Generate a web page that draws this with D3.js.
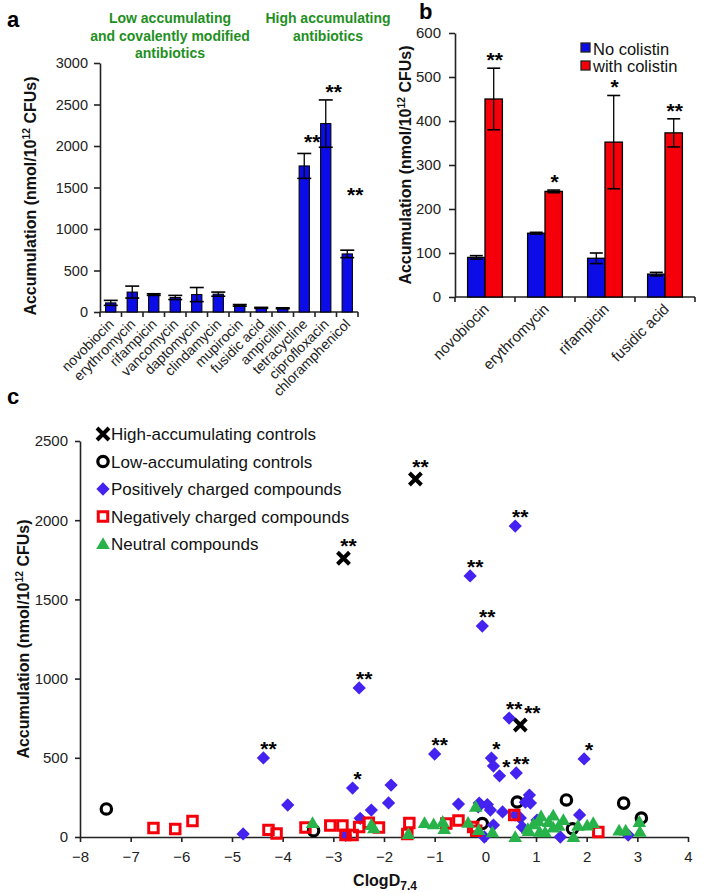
<!DOCTYPE html>
<html><head><meta charset="utf-8">
<script src="https://cdn.jsdelivr.net/npm/d3@7"></script>
<style>
body{margin:0;background:#fff}
text{font-family:Arial,"Liberation Sans",sans-serif}
</style>
</head><body>
<svg id="chart" width="704" height="896"></svg>
<script>
// ---------- Panel a data ----------
const aCategories = ["novobiocin","erythromycin","rifampicin","vancomycin","daptomycin","clindamycin","mupirocin","fusidic acid","ampicillin","tetracycline","ciprofloxacin","chloramphenicol"];
const aValues = [110, 240, 210, 175, 210, 215, 80, 50, 45, 1760, 2270, 700];
const aErrors = [30, 72, 10, 25, 85, 25, 10, 6, 6, 150, 285, 45];
const aStars = ["","","","","","","","","","**","**","**"];
const aStarAt = [0,0,0,0,0,0,0,0,0,1965,2570,1320];
const aTicks = [0,500,1000,1500,2000,2500,3000];

// ---------- Panel b data ----------
const bCategories = ["novobiocin","erythromycin","rifampicin","fusidic acid"];
const bSeries = ["No colistin","with colistin"];
const bNoColistin = [90, 145, 88, 52];
const bNoColistinErr = [4, 2, 12, 4];
const bWithColistin = [450, 240, 352, 373];
const bWithColistinErr = [70, 3, 106, 32];
const bStars = ["**","*","*","**"];
const bTicks = [0,100,200,300,400,500,600];

// ---------- Panel c data ----------
const cSeries = ["High-accumulating controls","Low-accumulating controls","Positively charged compounds","Negatively charged compounds","Neutral compounds"];
const highControls = [[-2.8,1760,"**"],[-1.38,2260,"**"],[0.69,707,"**"]];
const lowControls = [[-7.48,177],[-3.39,40],[-0.06,85],[0.63,221],[1.6,234],[1.72,52],[2.73,214],[3.08,120]];
const positiveCompounds = [
  [-4.38,499,"**"],[-2.49,941,"**"],[-2.62,309,"*"],[-1.0,524,"**"],[-0.3,1648,"**"],
  [-0.06,1332,"**"],[0.59,1963,"**"],[0.47,751,"**"],[0.12,498,"*"],[0.16,448,""],
  [0.28,386,"*"],[0.61,404,"**"],[1.95,493,"*"],
  [-4.78,19],[-3.9,202],[-2.76,10],[-2.47,118],[-2.25,170],[-1.86,328],[-1.91,215],
  [-0.53,208],[-0.14,190],[-0.12,214],[0.04,205],[0.1,170],[0.34,158],[-0.02,0],
  [0.16,75],[0.87,265],[0.79,220],[0.89,214],[0.69,120],[0.73,63],[1.02,107],
  [1.86,139],[1.48,0],[2.82,12],[0.59,139]
];
const negativeCompounds = [
  [-6.55,57],[-6.12,50],[-5.78,101],[-4.28,45],[-4.12,22],[-3.55,60],[-3.06,72],
  [-2.82,72],[-2.76,13],[-2.62,13],[-2.49,63],[-2.3,90],[-2.1,60],[-1.5,88],
  [-1.54,19],[-0.77,85],[-0.53,104],[-0.24,63],[-0.18,40],[0.57,139],[2.23,32]
];
const neutralCompounds = [
  [-3.41,88],[-2.25,76],[-2.2,55],[-1.52,19],[-1.2,88],[-1.02,80],[-0.84,95],
  [-0.81,50],[-0.34,90],[-0.19,190],[-0.13,44],[0.14,30],[0.59,0],[0.84,50],
  [0.85,38],[1.05,100],[1.07,32],[1.18,30],[1.34,135],[1.34,60],[1.54,107],
  [1.74,0],[1.83,70],[2.01,72],[2.13,88],[2.64,40],[2.77,40],[3.04,95],[3.05,32],
  [0.95,80],[1.25,95],[1.45,70],[1.1,130]
];
const cXTicks = [-8,-7,-6,-5,-4,-3,-2,-1,0,1,2,3,4];
const cYTicks = [0,500,1000,1500,2000,2500];

// ---------- styles ----------
const BLUE = "#0c0ce6", RED = "#f5000a", DIAMOND = "#4422f0", GREEN = "#27b34a", DARKGREEN = "#1f8f1f";
const AXIS = "#222";
const fmt = d3.format("d");

const svg = d3.select("#chart");

function yLabel(g, x, y, size) {
  const t = g.append("text").attr("transform", `translate(${x},${y}) rotate(-90)`)
    .attr("text-anchor","middle").attr("font-weight","bold").attr("font-size",size).attr("fill","#111");
  t.append("tspan").text("Accumulation (nmol/10");
  t.append("tspan").attr("dy",-6).attr("font-size",size*0.65).text("12");
  t.append("tspan").attr("dy",6).text(" CFUs)");
}
function styleAxis(g, fs) {
  g.selectAll("path.domain").attr("stroke",AXIS).attr("stroke-width",1.6);
  g.selectAll(".tick line").attr("stroke",AXIS).attr("stroke-width",1.6);
  g.selectAll(".tick text").attr("fill","#222").attr("font-size",fs)
    .attr("font-family","Arial, 'Liberation Sans', sans-serif");
}
function errorBar(g, cx, y, lo, hi, cap) {
  g.append("line").attr("x1",cx).attr("x2",cx).attr("y1",y(lo)).attr("y2",y(hi)).attr("stroke","#000").attr("stroke-width",1.3);
  [lo,hi].forEach(v => g.append("line").attr("x1",cx-cap/2).attr("x2",cx+cap/2).attr("y1",y(v)).attr("y2",y(v)).attr("stroke","#000").attr("stroke-width",1.6));
}

// =================== Panel a ===================
const ga = svg.append("g");
const ya = d3.scaleLinear().domain([0,3000]).range([312,63]);
const xa = d3.scaleBand().domain(aCategories).range([100,358]).paddingInner(0.52).paddingOuter(0.26);
ga.append("text").attr("x",7).attr("y",27).attr("font-size",22).attr("font-weight","bold").text("a");
[["Low accumulating","and covalently modified","antibiotics"],["High accumulating","antibiotics"]].forEach((lines,k)=>{
  const cx = k===0 ? 170 : 328;
  lines.forEach((s,i)=> ga.append("text").attr("x",cx).attr("y",23+i*17.5).attr("text-anchor","middle")
    .attr("font-size",14).attr("font-weight","bold").attr("fill",DARKGREEN).text(s));
});
const yAxA = ga.append("g").attr("transform","translate(100,0)")
  .call(d3.axisLeft(ya).tickValues(aTicks).tickFormat(fmt).tickSize(6).tickSizeOuter(0).tickPadding(6));
styleAxis(yAxA, 14.5);
yLabel(ga, 36, 196, 16);
ga.append("line").attr("x1",xa.range()[0]).attr("x2",xa.range()[1]).attr("y1",ya(0)).attr("y2",ya(0)).attr("stroke",AXIS).attr("stroke-width",1.6);
const aBounds = aCategories.map(c => xa(c)+xa.bandwidth()/2 - xa.step()/2).concat([xa.range()[1]]);
aBounds.forEach(b => ga.append("line").attr("x1",b).attr("x2",b).attr("y1",ya(0)).attr("y2",ya(0)+5).attr("stroke",AXIS).attr("stroke-width",1.6));
aCategories.forEach((c,i)=>{
  const cx = xa(c)+xa.bandwidth()/2;
  ga.append("rect").attr("x",xa(c)).attr("width",xa.bandwidth()).attr("y",ya(aValues[i])).attr("height",ya(0)-ya(aValues[i]))
    .attr("fill",BLUE).attr("stroke","#000").attr("stroke-width",1);
  errorBar(ga, cx, ya, aValues[i]-aErrors[i], aValues[i]+aErrors[i], 14);
  ga.append("text").attr("transform",`translate(${cx+4},${ya(0)+13}) rotate(-45)`).attr("text-anchor","end")
    .attr("font-size",14).attr("fill","#222").text(c);
  if (aStars[i]) ga.append("text").attr("x",cx+8).attr("y",ya(aStarAt[i])).attr("text-anchor","middle")
    .attr("font-size",21).attr("font-weight","bold").text(aStars[i]);
});

// =================== Panel b ===================
const gb = svg.append("g");
const yb = d3.scaleLinear().domain([0,600]).range([297,33]);
const xb = d3.scaleBand().domain(bCategories).range([455,695]).paddingInner(0.42).paddingOuter(0.21);
const xbs = d3.scaleBand().domain(bSeries).range([0,xb.bandwidth()]);
gb.append("text").attr("x",419).attr("y",19).attr("font-size",22).attr("font-weight","bold").text("b");
const yAxB = gb.append("g").attr("transform","translate(455,0)")
  .call(d3.axisLeft(yb).tickValues(bTicks).tickFormat(fmt).tickSize(6).tickSizeOuter(0).tickPadding(8));
styleAxis(yAxB, 15);
yLabel(gb, 411, 165, 16);
gb.append("line").attr("x1",455).attr("x2",695).attr("y1",yb(0)).attr("y2",yb(0)).attr("stroke",AXIS).attr("stroke-width",1.6);
const bBounds = bCategories.map(c => xb(c)+xb.bandwidth()/2 - xb.step()/2).concat([xb.range()[1]]);
bBounds.forEach(b => gb.append("line").attr("x1",b).attr("x2",b).attr("y1",yb(0)).attr("y2",yb(0)+5).attr("stroke",AXIS).attr("stroke-width",1.6));
const bVals = [bNoColistin, bWithColistin], bErrs = [bNoColistinErr, bWithColistinErr], bCols = [BLUE, RED];
bCategories.forEach((c,i)=>{
  bSeries.forEach((s,k)=>{
    const x0 = xb(c)+xbs(s);
    gb.append("rect").attr("x",x0).attr("width",xbs.bandwidth()).attr("y",yb(bVals[k][i])).attr("height",yb(0)-yb(bVals[k][i]))
      .attr("fill",bCols[k]).attr("stroke","#000").attr("stroke-width",1.3);
    errorBar(gb, x0+xbs.bandwidth()/2, yb, bVals[k][i]-bErrs[k][i], bVals[k][i]+bErrs[k][i], 13);
  });
  const rc = xb(c)+xbs(bSeries[1])+xbs.bandwidth()/2;
  gb.append("text").attr("x",rc+1).attr("y",yb(bWithColistin[i]+bWithColistinErr[i])-1).attr("text-anchor","middle")
    .attr("font-size",21).attr("font-weight","bold").text(bStars[i]);
  const cx = xb(c)+xb.bandwidth()/2;
  gb.append("text").attr("transform",`translate(${cx+5},${yb(0)+13}) rotate(-45)`).attr("text-anchor","end")
    .attr("font-size",15).attr("fill","#222").text(c);
});
bSeries.forEach((s,k)=>{
  gb.append("rect").attr("x",581).attr("y",43+k*18).attr("width",9).attr("height",9).attr("fill",bCols[k]).attr("stroke","#222").attr("stroke-width",1.3);
  gb.append("text").attr("x",593).attr("y",55+k*17).attr("font-size",16.5).attr("fill","#111").text(s);
});

// =================== Panel c ===================
const gc = svg.append("g");
const xc = d3.scaleLinear().domain([-8,4]).range([80,688]);
const yc = d3.scaleLinear().domain([0,2500]).range([837,441]);
gc.append("text").attr("x",7).attr("y",404).attr("font-size",22).attr("font-weight","bold").text("c");
const xAxC = gc.append("g").attr("transform",`translate(0,${yc(0)})`)
  .call(d3.axisBottom(xc).tickValues(cXTicks).tickSize(5).tickSizeOuter(0).tickPadding(9).tickFormat(fmt));
styleAxis(xAxC, 15);
const yAxC = gc.append("g").attr("transform",`translate(${xc(-8)},0)`)
  .call(d3.axisLeft(yc).tickValues(cYTicks).tickFormat(fmt).tickSize(5).tickSizeOuter(0).tickPadding(7));
styleAxis(yAxC, 15);
yLabel(gc, 29, 639, 16);
const xl = gc.append("text").attr("x",385).attr("y",886).attr("text-anchor","middle").attr("font-size",16).attr("font-weight","bold").attr("fill","#111");
xl.append("tspan").text("ClogD");
xl.append("tspan").attr("dy",4).attr("font-size",12).text("7.4");

const symDiamond = d3.symbol(d3.symbolSquare, 88)();
const symSquare = d3.symbol(d3.symbolSquare, 90)();
const symTriangle = d3.symbol(d3.symbolTriangle, 80)();
const symX = "M-6,-6L6,6M-6,6L6,-6";

function drawMarker(g, type, tx, ty) {
  const t = `translate(${tx},${ty})`;
  if (type===0) g.append("path").attr("d",symX).attr("transform",t).attr("stroke","#000").attr("stroke-width",4).attr("fill","none");
  else if (type===1) g.append("circle").attr("cx",tx).attr("cy",ty).attr("r",5.2).attr("fill","none").attr("stroke","#000").attr("stroke-width",3.2);
  else if (type===2) g.append("path").attr("d",symDiamond).attr("transform",t+" rotate(45)").attr("fill",DIAMOND);
  else if (type===3) g.append("path").attr("d",symSquare).attr("transform",t).attr("fill","none").attr("stroke",RED).attr("stroke-width",3);
  else g.append("path").attr("d",symTriangle).attr("transform",t+" translate(0,1)").attr("fill",GREEN);
}
const cData = [highControls, lowControls, positiveCompounds, negativeCompounds, neutralCompounds];
cData.forEach((arr,k)=> arr.forEach(d => drawMarker(gc, k, xc(d[0]), yc(d[1]))));
// significance stars, shifted right when they would collide with an earlier one
const placed = [];
[positiveCompounds, highControls].forEach((arr,k)=> arr.forEach(d=>{
  if (!d[2]) return;
  const t = gc.append("text").attr("x",xc(d[0])+5).attr("y",yc(d[1])-(k===1?5:2)).attr("text-anchor","middle")
    .attr("font-size",21).attr("font-weight","bold").text(d[2]);
  let b = t.node().getBBox();
  placed.forEach(p=>{
    const overlapX = Math.min(b.x+b.width, p.x+p.width) - Math.max(b.x, p.x);
    const overlapY = Math.min(b.y+b.height, p.y+p.height) - Math.max(b.y, p.y);
    if (overlapX > 0 && overlapY > 0) {
      t.attr("x", +t.attr("x") + (p.x+p.width - b.x) + 1);
      b = t.node().getBBox();
    }
  });
  placed.push(b);
}));
// legend
cSeries.forEach((s,k)=>{
  const ly = 434 + k*27.5;
  drawMarker(gc, k, 103, ly);
  gc.append("text").attr("x",111).attr("y",ly+6).attr("font-size",17).attr("fill","#111").text(s);
});
</script>
</body></html>
